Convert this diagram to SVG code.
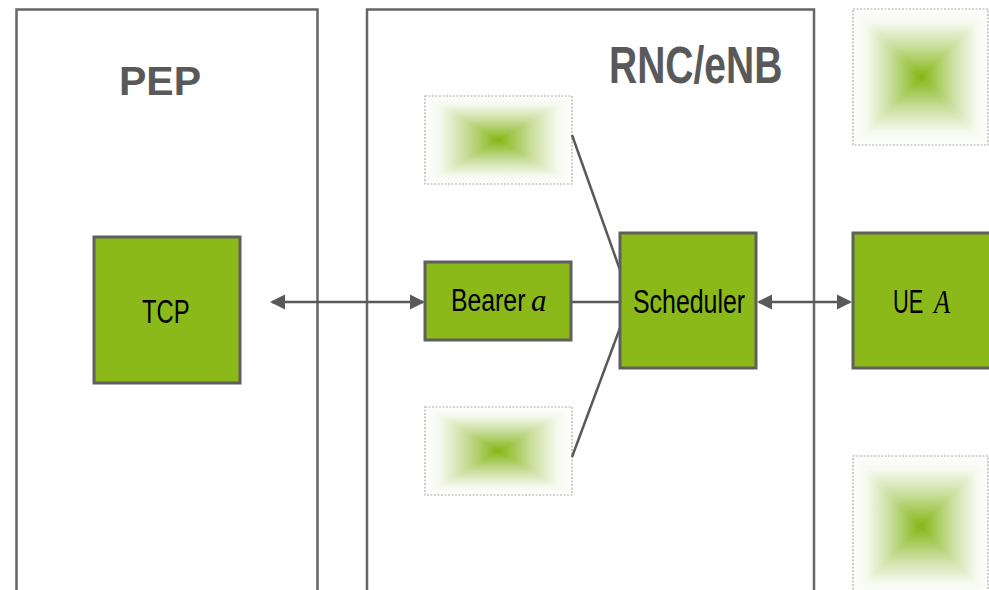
<svg xmlns="http://www.w3.org/2000/svg" width="989" height="590" viewBox="0 0 989 590">
  <style>
    .frame { fill: #ffffff; stroke: #666666; stroke-width: 2.5; }
    .title { font-family: "Liberation Sans", Arial, sans-serif; font-weight: bold; fill: #595959; }
    .node { fill: #8bb91a; stroke: #5f5f5f; stroke-width: 3; }
    .lbl { font-family: "Liberation Sans", Arial, sans-serif; fill: #000000; }
    .math { font-family: "Liberation Serif", "Times New Roman", serif; font-style: italic; fill: #000000; }
    .ghost { fill: none; stroke: #aaaaaa; stroke-width: 1.2; stroke-dasharray: 2 1.5; }
    .conn { fill: none; stroke: #595959; stroke-width: 2.5; }
  </style>
  <defs>
    <linearGradient id="gT" x1="0" y1="0" x2="0" y2="1">
      <stop offset="0" stop-color="#ffffff"/>
      <stop offset="0.2" stop-color="#f6f9ee"/>
      <stop offset="0.55" stop-color="#c9de9c"/>
      <stop offset="1" stop-color="#86b615"/>
    </linearGradient>
    <linearGradient id="gB" x1="0" y1="1" x2="0" y2="0" href="#gT"/>
    <linearGradient id="gL" x1="0" y1="0" x2="1" y2="0" href="#gT"/>
    <linearGradient id="gR" x1="1" y1="0" x2="0" y2="0" href="#gT"/>
    <radialGradient id="gC" cx="0.5" cy="0.5" r="0.5">
      <stop offset="0" stop-color="#86b615"/>
      <stop offset="0.45" stop-color="#c9de9c"/>
      <stop offset="1" stop-color="#ffffff"/>
    </radialGradient>
    <marker id="arr" viewBox="0 0 16 16" markerWidth="16" markerHeight="16" markerUnits="userSpaceOnUse" refX="13" refY="8" orient="auto-start-reverse">
      <path d="M0,0.5 L15,8 L0,15.5 z" fill="#595959"/>
    </marker>
  </defs>

  <g id="pep">
    <rect class="frame" x="16.5" y="9.5" width="301" height="600"/>
    <text class="title" x="160" y="95" font-size="41" text-anchor="middle">PEP</text>
  </g>
  <g id="rnc">
    <rect class="frame" x="367" y="9.5" width="447" height="600"/>
    <text class="title" transform="translate(609,83) scale(0.75,1)" font-size="52">RNC/eNB</text>
  </g>

  <g id="ghost-top">
    <rect x="425" y="96" width="147" height="88" fill="url(#gC)"/>
    <polygon points="425,96 572,96 498.5,140" fill="url(#gT)"/>
    <polygon points="425,184 572,184 498.5,140" fill="url(#gB)"/>
    <polygon points="425,96 425,184 498.5,140" fill="url(#gL)"/>
    <polygon points="572,96 572,184 498.5,140" fill="url(#gR)"/>
    <rect class="ghost" x="425" y="96" width="147" height="88"/>
  </g>
  <g id="ghost-bottom">
    <rect x="425" y="407" width="147" height="88" fill="url(#gC)"/>
    <polygon points="425,407 572,407 498.5,451" fill="url(#gT)"/>
    <polygon points="425,495 572,495 498.5,451" fill="url(#gB)"/>
    <polygon points="425,407 425,495 498.5,451" fill="url(#gL)"/>
    <polygon points="572,407 572,495 498.5,451" fill="url(#gR)"/>
    <rect class="ghost" x="425" y="407" width="147" height="88"/>
  </g>
  <g id="ghost-right-top">
    <rect x="853" y="9" width="136" height="136" fill="url(#gC)"/>
    <polygon points="853,9 989,9 921,77" fill="url(#gT)"/>
    <polygon points="853,145 989,145 921,77" fill="url(#gB)"/>
    <polygon points="853,9 853,145 921,77" fill="url(#gL)"/>
    <polygon points="989,9 989,145 921,77" fill="url(#gR)"/>
    <rect class="ghost" x="853" y="9" width="135" height="136"/>
  </g>
  <g id="ghost-right-bottom">
    <rect x="853" y="456" width="136" height="140" fill="url(#gC)"/>
    <polygon points="853,456 989,456 921,526" fill="url(#gT)"/>
    <polygon points="853,596 989,596 921,526" fill="url(#gB)"/>
    <polygon points="853,456 853,596 921,526" fill="url(#gL)"/>
    <polygon points="989,456 989,596 921,526" fill="url(#gR)"/>
    <rect class="ghost" x="853" y="456" width="135" height="140"/>
  </g>

  <g id="connectors">
    <line class="conn" x1="572" y1="135" x2="620" y2="270"/>
    <line class="conn" x1="572" y1="457" x2="620" y2="328"/>
    <line class="conn" x1="571" y1="302" x2="620" y2="302"/>
    <line class="conn" x1="272" y1="302" x2="423" y2="302" marker-start="url(#arr)" marker-end="url(#arr)"/>
    <line class="conn" x1="759" y1="302" x2="850" y2="302" marker-start="url(#arr)" marker-end="url(#arr)"/>
  </g>

  <g id="tcp">
    <rect class="node" x="94" y="237" width="146" height="146"/>
    <text class="lbl" transform="translate(142,323) scale(0.7,1)" font-size="34">TCP</text>
  </g>
  <g id="bearer">
    <rect class="node" x="425" y="262" width="146" height="78"/>
    <text class="lbl" transform="translate(451,311) scale(0.8,1)" font-size="31">Bearer</text>
    <text class="math" x="531" y="311" font-size="31">a</text>
  </g>
  <g id="scheduler">
    <rect class="node" x="620" y="233" width="136" height="135"/>
    <text class="lbl" transform="translate(633,313) scale(0.755,1)" font-size="33">Scheduler</text>
  </g>
  <g id="ue">
    <rect class="node" x="853" y="233" width="140" height="135"/>
    <text class="lbl" transform="translate(893,313) scale(0.66,1)" font-size="33">UE</text>
    <text class="math" transform="translate(934,313) scale(0.8,1)" font-size="33">A</text>
  </g>
</svg>
